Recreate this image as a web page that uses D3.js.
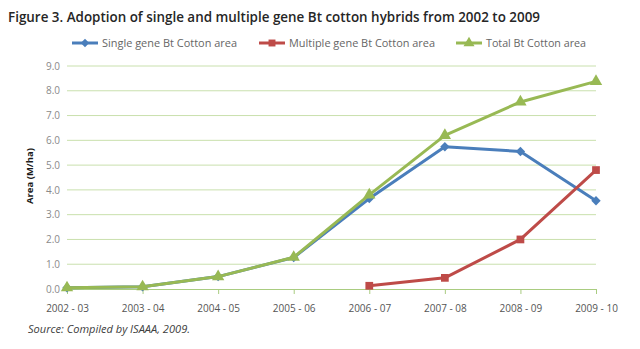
<!DOCTYPE html>
<html>
<head>
<meta charset="utf-8">
<script src="https://cdn.jsdelivr.net/npm/d3@7"></script>
<style>
  body { margin: 0; background: #fff; }
  svg { display: block; font-family: "Open Sans", "Liberation Sans", sans-serif; }
</style>
</head>
<body>
<svg id="chart" width="640" height="349"></svg>
<script>
const seasons = ["2002 - 03", "2003 - 04", "2004 - 05", "2005 - 06", "2006 - 07", "2007 - 08", "2008 - 09", "2009 - 10"];
const singleGene = [0.05, 0.09, 0.5, 1.27, 3.65, 5.74, 5.55, 3.56];
const multipleGene = [null, null, null, null, 0.13, 0.45, 2.0, 4.8];
const totalBt = [0.05, 0.09, 0.5, 1.28, 3.8, 6.2, 7.55, 8.38];
const yTicks = [0, 1, 2, 3, 4, 5, 6, 7, 8, 9];

const series = [
  { name: "Single gene Bt Cotton area", values: singleGene, color: "#4a7ebb", marker: d3.symbolDiamond2, size: 56, lx: 72 },
  { name: "Multiple gene Bt Cotton area", values: multipleGene, color: "#be4b48", marker: d3.symbolSquare, size: 60, lx: 259 },
  { name: "Total Bt Cotton area", values: totalBt, color: "#98b954", marker: d3.symbolTriangle, size: 66, lx: 456 }
];

const svg = d3.select("#chart");
const plot = { left: 67, right: 596, top: 66, bottom: 289 };

const x = d3.scalePoint().domain(seasons).range([plot.left, plot.right]);
const y = d3.scaleLinear().domain([0, 9]).range([plot.bottom, plot.top]);

// title
svg.append("text")
  .attr("x", 8).attr("y", 22)
  .attr("font-size", 13.5).attr("font-weight", 600)
  .attr("fill", "#262626")
  .attr("textLength", 532).attr("lengthAdjust", "spacingAndGlyphs")
  .text("Figure 3.  Adoption of single and multiple gene Bt cotton hybrids from 2002 to 2009");

// legend
const legend = svg.append("g");
const legendWidths = [135, 146, 100];
series.forEach((s, i) => {
  const g = legend.append("g").attr("transform", `translate(${s.lx},43)`);
  g.append("line").attr("x1", 0).attr("x2", 26).attr("stroke", s.color).attr("stroke-width", 3);
  g.append("path").attr("d", d3.symbol(s.marker, s.size * 0.8)()).attr("transform", "translate(13,0)").attr("fill", s.color);
  g.append("text").attr("x", 30).attr("y", 4)
    .attr("font-size", 11).attr("fill", "#666")
    .attr("textLength", legendWidths[i]).attr("lengthAdjust", "spacingAndGlyphs")
    .text(s.name);
});

// gridlines
svg.append("g")
  .selectAll("line")
  .data(yTicks.slice(1))
  .join("line")
  .attr("x1", plot.left).attr("x2", plot.right)
  .attr("y1", d => y(d)).attr("y2", d => y(d))
  .attr("stroke", "#c9e0ad").attr("stroke-width", 1);

// y axis labels
const yAxis = svg.append("g")
  .attr("transform", `translate(${plot.left},0)`)
  .call(d3.axisLeft(y).tickValues(yTicks).tickFormat(d3.format(".1f")).tickSize(0).tickPadding(7));
yAxis.select(".domain").remove();
yAxis.selectAll("text").attr("font-size", 10).attr("fill", "#8a8a8a").attr("font-family", "Open Sans, sans-serif");

// x axis
const xAxis = svg.append("g")
  .attr("transform", `translate(0,${plot.bottom})`)
  .call(d3.axisBottom(x).tickSize(5).tickPadding(11).tickSizeOuter(0));
xAxis.select(".domain").attr("stroke", "#a9cc80").attr("stroke-width", 1.2);
xAxis.selectAll(".tick line").attr("stroke", "#a9cc80");
xAxis.selectAll("text").attr("font-size", 10).attr("fill", "#555").attr("font-family", "Open Sans, sans-serif");

// y axis title
svg.append("text")
  .attr("transform", "translate(33,176) rotate(-90)")
  .attr("text-anchor", "middle")
  .attr("font-size", 9.5).attr("font-weight", 700).attr("fill", "#1a1a1a")
  .attr("textLength", 56).attr("lengthAdjust", "spacing")
  .text("Area (M/ha)");

// series lines and markers
const line = d3.line()
  .defined(d => d != null)
  .x((d, i) => x(seasons[i]))
  .y(d => y(d));

series.forEach(s => {
  svg.append("path")
    .attr("d", line(s.values))
    .attr("fill", "none")
    .attr("stroke", s.color)
    .attr("stroke-width", 3)
    .attr("stroke-linejoin", "round");
  svg.append("g")
    .selectAll("path")
    .data(s.values.map((v, i) => ({ v, i })).filter(d => d.v != null))
    .join("path")
    .attr("d", d3.symbol(s.marker, s.size)())
    .attr("transform", d => `translate(${x(seasons[d.i])},${y(d.v)})`)
    .attr("fill", s.color);
});

// source note
svg.append("text")
  .attr("x", 28).attr("y", 333)
  .attr("font-size", 10).attr("font-style", "italic").attr("fill", "#404040")
  .attr("textLength", 162).attr("lengthAdjust", "spacingAndGlyphs")
  .text("Source: Compiled by ISAAA, 2009.");
</script>
</body>
</html>
